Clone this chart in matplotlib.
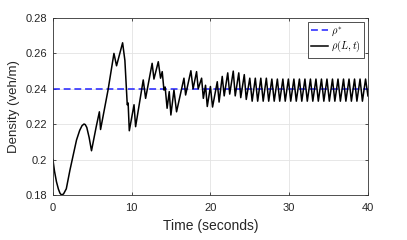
import matplotlib
matplotlib.use('Agg')
import matplotlib.pyplot as plt

plt.rcParams['font.family'] = ['Liberation Sans', 'DejaVu Sans']
plt.rcParams['mathtext.fontset'] = 'cm'

# target density
rho_star = 0.24

# density at the end of the road (turning points)
time = [0, 0.2, 0.45, 0.7, 0.9, 1.1, 1.35, 1.7, 2.16, 2.6, 3.0, 3.4, 3.7, 3.95, 4.1, 4.3, 4.6, 4.9,
        5.5, 5.9, 6.05, 7.0, 7.75, 8.08, 8.85, 9.14, 9.44, 9.55, 9.7,
        10.3, 10.5, 11.47, 11.77, 12.6, 12.83, 13.38, 13.67, 13.88, 14.1, 14.25,
        14.5, 14.77, 14.98, 15.37, 15.7, 16.64, 16.85, 17.52, 17.8, 18.24, 18.45,
        18.88, 19.1, 19.38, 19.6, 20.0, 20.27, 20.87, 21.1,
        21.5, 21.75, 22.2, 22.45, 22.9, 23.15, 23.6, 23.85, 24.3, 24.55,
        25.0, 25.3, 25.7, 26.0, 26.4, 26.7, 27.1, 27.4, 27.8, 28.1,
        28.5, 28.8, 29.2, 29.5, 29.9, 30.2, 30.6, 30.9, 31.3, 31.6,
        32.0, 32.3, 32.7, 33.0, 33.4, 33.7, 34.1, 34.4, 34.8, 35.1,
        35.5, 35.8, 36.2, 36.5, 36.9, 37.2, 37.6, 37.9, 38.3, 38.6,
        39.0, 39.3, 39.7, 40.0]
density = [0.200, 0.1935, 0.1875, 0.1833, 0.181, 0.180, 0.1806, 0.1835, 0.194, 0.203, 0.2111, 0.2165, 0.2192, 0.2201, 0.2198, 0.2182, 0.2125, 0.205,
           0.2186, 0.227, 0.217, 0.2393, 0.260, 0.253, 0.266, 0.256, 0.231, 0.232, 0.2163,
           0.231, 0.2186, 0.245, 0.2346, 0.2544, 0.2455, 0.2553, 0.246, 0.2497, 0.2393, 0.241,
           0.229, 0.2384, 0.2252, 0.2393, 0.227, 0.246, 0.2365, 0.2502, 0.240, 0.2497, 0.240,
           0.246, 0.2346, 0.242, 0.230, 0.2413, 0.2297, 0.244, 0.2325,
           0.247, 0.236, 0.249, 0.237, 0.250, 0.236, 0.249, 0.235, 0.248, 0.234,
           0.246, 0.233, 0.246, 0.233, 0.246, 0.233, 0.246, 0.233, 0.2455, 0.233,
           0.2455, 0.233, 0.2455, 0.233, 0.2455, 0.233, 0.2455, 0.233, 0.2455, 0.233,
           0.2455, 0.233, 0.2455, 0.233, 0.2455, 0.233, 0.2455, 0.233, 0.2455, 0.233,
           0.2455, 0.233, 0.2455, 0.233, 0.2455, 0.233, 0.2455, 0.233, 0.2455, 0.233,
           0.2455, 0.233, 0.2455, 0.236]

x_ticks = [0, 10, 20, 30, 40]
y_ticks = [0.18, 0.2, 0.22, 0.24, 0.26, 0.28]
y_labels = ['0.18', '0.2', '0.22', '0.24', '0.26', '0.28']

fig = plt.figure(figsize=(4.07, 2.40), dpi=100)
ax = fig.add_axes([0.130, 0.1875, 0.774, 0.7375])

ax.plot([0, 40], [rho_star, rho_star], '--', color='#2020ff', lw=1.1, dashes=(4.5, 2.5),
        label=r'$\rho^{*}$')
ax.plot(time, density, '-', color='black', lw=1.1, label=r'$\rho(L,t)$')

ax.set_xlim(0, 40)
ax.set_ylim(0.18, 0.28)
ax.set_xticks(x_ticks)
ax.set_yticks(y_ticks)
ax.set_yticklabels(y_labels)
ax.tick_params(labelsize=8, length=2.5, width=0.6, color='#333333', labelcolor='#262626',
               direction='in', top=True, right=True)
ax.tick_params(axis='x', pad=6)
ax.tick_params(axis='y', pad=4)
ax.grid(True, color='#e3e3e3', lw=0.6)
ax.set_axisbelow(True)
for side in ax.spines.values():
    side.set_color('#333333')
    side.set_linewidth(0.6)

ax.set_xlabel('Time (seconds)', fontsize=10, labelpad=4, color='#262626')
ax.set_ylabel('Density (veh/m)', fontsize=9.5, labelpad=4, color='#262626')

leg = ax.legend(loc='upper right', fontsize=7.5, handlelength=1.6, handletextpad=0.3,
                borderpad=0.3, labelspacing=0.15, fancybox=False, framealpha=1,
                edgecolor='#333333', borderaxespad=0.35)
leg.get_frame().set_linewidth(0.6)

fig.savefig('out.png', dpi=100)
